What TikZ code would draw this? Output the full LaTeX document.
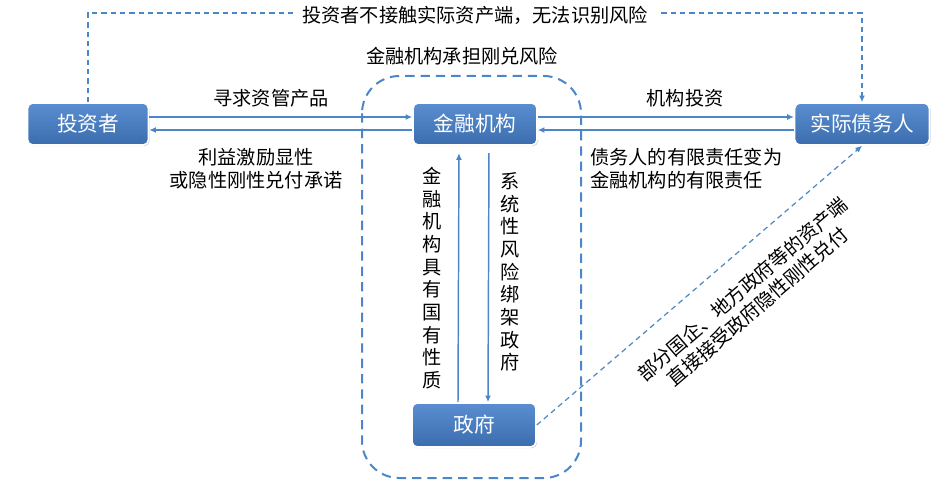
\documentclass[tikz,border=0pt]{standalone}
\usepackage{fontspec}
\setmainfont{Noto Sans CJK SC}
\usetikzlibrary{arrows.meta,shadows}
\definecolor{lineblue}{HTML}{4A86C8}
\definecolor{boxtop}{HTML}{5A8ED0}
\definecolor{boxbot}{HTML}{3B6DAE}
\begin{document}
\begin{tikzpicture}[x=0.75pt,y=-0.75pt,
  box/.style={rounded corners=4pt, top color=boxtop, bottom color=boxbot, draw=white, line width=1.2pt,
    text=white, font=\fontsize{15.5}{18}\selectfont,
    drop shadow={opacity=0.35,shadow xshift=0.9pt,shadow yshift=-0.9pt},
    minimum height=31.5pt, inner sep=0pt},
  lbl/.style={font=\fontsize{14.4}{17.25}\selectfont, text=black, inner sep=0pt, align=center},
  vlbl/.style={font=\fontsize{14.4}{17}\selectfont, text=black, inner sep=0pt, align=center},
  tip/.style={-{Latex[length=5pt,width=4.5pt]}},
  arr/.style={draw=lineblue, line width=1.1pt, tip},
  dsh/.style={draw=lineblue, line width=0.9pt, dash pattern=on 4pt off 3pt, tip},
  region/.style={draw=lineblue, line width=1.5pt, dash pattern=on 7pt off 4.5pt, rounded corners=28pt}
]
\useasboundingbox (0,0) rectangle (952,485);

% dashed region
\draw[region] (362,76) rectangle (581,478);

% boxes
\node[box, minimum width=90.75pt] (inv) at (88,124) {投资者};
\node[box, minimum width=93pt] (fin) at (475,124) {金融机构};
\node[box, minimum width=101pt] (debt) at (862,124) {实际债务人};
\node[box, minimum width=93pt, minimum height=33pt] (gov) at (474,425) {政府};

% top dashed connector
\coordinate (tl) at (88,13);
\coordinate (tr) at (862,13);
\draw[dsh] (inv.north) -- (tl) -- node[lbl, fill=white, inner xsep=7pt, inner ysep=2pt, yshift=-2pt] (ttop) {投资者不接触实际资产端，无法识别风险} (tr) -- (debt.north);

% region label
\node[lbl] (tregion) at (462,56) {金融机构承担刚兑风险};

% horizontal arrows
\draw[arr] ([yshift=5.25pt]inv.east) -- ([yshift=5.25pt]fin.west);
\draw[arr] ([yshift=-4.5pt]fin.west) -- ([yshift=-4.5pt]inv.east);
\draw[arr] ([yshift=5.25pt]fin.east) -- ([yshift=5.25pt]debt.west);
\draw[arr] ([yshift=-4.5pt]debt.west) -- ([yshift=-4.5pt]fin.east);

\node[lbl] (t1) at (271,98) {寻求资管产品};
\node[lbl] (t2) at (256,168.5) {利益激励显性\\或隐性刚性兑付承诺};
\node[lbl] (t3) at (685,98) {机构投资};
\node[lbl, align=left, anchor=west] (t4) at (590,168.5) {债务人的有限责任变为\\金融机构的有限责任};

% vertical arrows
\draw[arr, shorten >=5.5pt] ([xshift=-12pt]gov.north) -- ([xshift=-12pt]fin.south);
\draw[arr, shorten <=5.5pt] ([xshift=10.5pt]fin.south) -- ([xshift=10.5pt]gov.north);
\node[vlbl] (t5) at (432,278) {金\\融\\机\\构\\具\\有\\国\\有\\性\\质};
\node[vlbl] (t6) at (510,272) {系\\统\\性\\风\\险\\绑\\架\\政\\府};

% diagonal dashed connector
\draw[dsh] (gov.east) -- (debt.south);
\node[lbl, rotate=40.65] (t7) at (750,298) {部分国企、地方政府等的资产端\\直接接受政府隐性刚性兑付};
\end{tikzpicture}
\end{document}
